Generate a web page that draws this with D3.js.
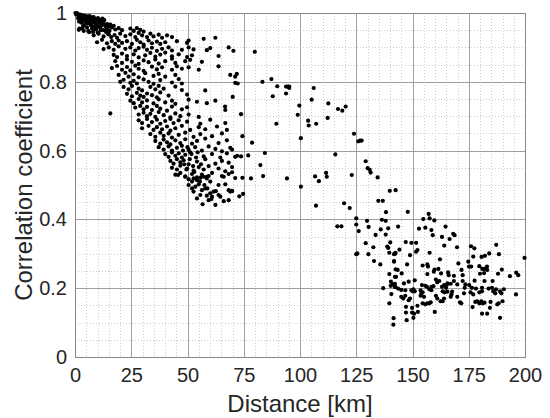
<!DOCTYPE html>
<html><head><meta charset="utf-8">
<script src="https://cdn.jsdelivr.net/npm/d3@7"></script>
<style>
body{margin:0;background:#fff}
svg{display:block}
text{font-family:"Liberation Sans",Arial,Helvetica,sans-serif;fill:#262626}
</style>
</head><body>
<svg id="chart" width="550" height="418"></svg>
<script>
const xTickValues=[0,25,50,75,100,125,150,175,200];
const yTickValues=[0,0.2,0.4,0.6,0.8,1];
const xLabel="Distance [km]";
const yLabel="Correlation coefficient";

// [distance km, correlation]
const nearPairs=[
[0.2,1.0],[0.5,0.996],[1.1,0.998],[1.6,0.993],[2.3,0.995],[2.8,0.99],[3.4,0.993],[3.9,0.988],[4.4,0.992],[4.9,0.986],[5.5,0.99],[6.1,0.985],[6.5,0.991],[6.8,0.982],[7.4,0.987],[7.9,0.98],[8.3,0.988],[9.0,0.983],[9.6,0.978],[10.2,0.985],[11.0,0.98],[11.7,0.976],[12.2,0.984],[13.0,0.979],
[1.8,0.975],[2.9,0.972],[4.3,0.978],[5.6,0.97],[6.6,0.975],[7.2,0.968],[8.6,0.973],[9.9,0.967],[10.8,0.972],[11.9,0.965],[12.7,0.97],[13.5,0.962],[14.3,0.968],[15.0,0.961],[15.7,0.966],[17.2,0.963],[3.6,0.962],[2.0,0.955],
[0.8,0.999],[1.4,0.985],[2.5,0.984],[3.1,0.98],[4.7,0.974],[5.1,0.98],[6.9,0.965],[7.7,0.96],[8.8,0.962],[9.4,0.958],[10.6,0.96],[11.4,0.95],[13.8,0.945],[14.7,0.94],[4.0,0.965],[3.2,0.955],[5.9,0.948],[8.0,0.945],
[1.7,0.951],[3.9,0.948],[5.3,0.958],[7.6,0.955],[9.3,0.952],[11.3,0.957],[12.7,0.95],[14.2,0.955],[15.3,0.948],[16.4,0.958],[17.9,0.952],[19.4,0.956],[20.9,0.95],[24.6,0.955],[26.1,0.948],[27.5,0.956],[29.0,0.951],[30.5,0.946],[6.3,0.944],[10.1,0.943]
];
const upperBand=[
[8.3,0.935],[10.5,0.94],[12.7,0.932],[15.0,0.938],[16.1,0.93],[17.6,0.936],[18.7,0.928],[20.1,0.94],[22.4,0.933],[24.6,0.938],[26.8,0.93],[28.3,0.942],[29.8,0.935],[32.0,0.93],[33.5,0.94],[34.9,0.932],[37.2,0.937],[38.7,0.928],[40.9,0.935],[43.1,0.93],
[9.8,0.915],[12.0,0.922],[14.2,0.912],[16.4,0.918],[17.9,0.91],[19.4,0.92],[20.9,0.913],[23.1,0.918],[25.3,0.91],[27.5,0.922],[29.0,0.915],[30.5,0.908],[32.7,0.92],[34.2,0.912],[36.4,0.917],[37.9,0.91],[40.1,0.915],[45.3,0.918],[49.8,0.913],[50.5,0.92],[57.2,0.925],[62.4,0.928],
[12.7,0.895],[15.0,0.9],[17.2,0.893],[19.4,0.903],[22.4,0.896],[24.6,0.9],[26.8,0.891],[28.3,0.898],[30.5,0.902],[32.0,0.893],[34.2,0.899],[36.4,0.89],[38.7,0.896],[41.6,0.9],[43.1,0.891],[47.5,0.893],[50.5,0.9],[52.7,0.894],[58.6,0.892],[60.1,0.898],[68.3,0.9],
[17.2,0.878],[18.7,0.872],[20.9,0.882],[23.1,0.875],[26.1,0.88],[28.3,0.871],[31.2,0.877],[33.5,0.884],[35.7,0.873],[37.9,0.879],[40.1,0.885],[43.1,0.874],[46.1,0.88],[49.8,0.872],[52.0,0.877],[63.8,0.875],
[17.9,0.86],[20.9,0.855],[23.1,0.865],[25.3,0.858],[28.3,0.852],[30.5,0.862],[32.7,0.857],[35.7,0.865],[37.2,0.853],[40.1,0.86],[43.1,0.867],[44.6,0.855],[49.0,0.86],[51.2,0.864],[56.4,0.858],
[16.4,0.84],[18.7,0.846],[20.9,0.835],[23.1,0.843],[24.6,0.833],[26.8,0.847],[28.3,0.838],[30.5,0.832],[34.2,0.844],[36.4,0.836],[38.7,0.842],[43.1,0.835],[45.3,0.845],[47.5,0.838],[50.5,0.842],[55.0,0.835],[63.8,0.845]
];
const middleBand=[
[19.4,0.82],[22.4,0.826],[23.8,0.815],[26.1,0.822],[28.3,0.813],[31.2,0.825],[34.9,0.817],[37.2,0.823],[40.1,0.815],[44.6,0.82],[69.0,0.82],[71.2,0.815],
[20.1,0.8],[21.6,0.806],[24.6,0.797],[26.1,0.803],[27.5,0.795],[30.5,0.807],[32.7,0.8],[34.9,0.794],[37.9,0.805],[43.1,0.798],[46.1,0.808],[47.5,0.795],[71.2,0.797],
[21.6,0.785],[23.8,0.778],[25.3,0.788],[28.3,0.78],[29.8,0.775],[33.5,0.785],[35.7,0.778],[37.2,0.788],[39.4,0.78],[44.6,0.786],[47.5,0.776],[57.9,0.775],
[23.1,0.765],[25.3,0.758],[27.5,0.768],[29.0,0.76],[30.5,0.756],[32.0,0.766],[34.2,0.761],[36.4,0.755],[37.9,0.769],[41.6,0.76],[49.8,0.763],
[24.6,0.745],[26.1,0.738],[28.3,0.75],[29.8,0.74],[32.0,0.746],[34.9,0.737],[37.2,0.749],[40.1,0.74],[43.1,0.745],[44.6,0.736],[50.5,0.748],[54.2,0.742],[58.6,0.738],[62.4,0.745],
[26.8,0.725],[29.0,0.73],[30.5,0.72],[32.0,0.727],[34.2,0.718],[36.4,0.73],[37.9,0.722],[40.9,0.716],[43.1,0.728],[47.5,0.72],[49.8,0.726],[66.8,0.718],
[15.7,0.708],[28.3,0.705],[30.5,0.71],[32.0,0.7],[33.5,0.707],[35.7,0.698],[37.2,0.712],[39.4,0.703],[42.4,0.697],[44.6,0.708],[46.8,0.7],[50.5,0.705],[55.0,0.698],
[28.3,0.688],[29.8,0.68],[32.0,0.692],[34.2,0.683],[36.4,0.69],[37.9,0.678],[40.1,0.686],[42.4,0.692],[43.8,0.68],[46.1,0.688],[49.8,0.684],[55.7,0.678],[60.1,0.69],[66.8,0.68]
];
const lowerBand=[
[29.8,0.665],[32.7,0.672],[34.9,0.66],[36.4,0.668],[38.7,0.662],[40.9,0.67],[42.4,0.658],[44.6,0.665],[47.5,0.672],[51.2,0.66],[55.0,0.668],[57.9,0.662],[63.1,0.67],[67.5,0.66],
[33.5,0.648],[35.7,0.64],[37.9,0.652],[39.4,0.643],[41.6,0.65],[43.1,0.638],[46.1,0.646],[49.0,0.652],[52.7,0.64],[55.7,0.648],[60.9,0.642],[65.3,0.65],
[35.7,0.628],[37.9,0.62],[39.4,0.632],[40.9,0.624],[42.4,0.618],[44.6,0.63],[46.8,0.622],[49.0,0.633],[52.0,0.62],[54.2,0.628],[57.9,0.635],[63.8,0.622],[67.5,0.63],
[37.2,0.61],[39.4,0.603],[41.6,0.612],[43.1,0.6],[45.3,0.608],[47.5,0.614],[50.5,0.602],[53.4,0.61],[56.4,0.6],[59.4,0.612],[62.4,0.605],[65.3,0.598],[69.0,0.608],
[40.1,0.59],[41.6,0.582],[43.1,0.595],[44.6,0.585],[46.1,0.592],[47.5,0.58],[49.0,0.588],[51.2,0.595],[57.2,0.583],[60.9,0.59],[64.6,0.58],[67.5,0.592],
[42.4,0.57],[43.8,0.562],[45.3,0.575],[46.8,0.566],[48.3,0.572],[50.5,0.56],[54.2,0.568],[57.9,0.575],[62.4,0.562],[65.3,0.57],[68.3,0.565],
[43.1,0.55],[45.3,0.545],[46.8,0.556],[49.8,0.548],[52.7,0.542],[55.0,0.552],[57.2,0.545],[59.4,0.555],[63.8,0.548],[66.8,0.54],[69.8,0.552],
[44.6,0.53],[46.8,0.535],[49.0,0.525],[52.0,0.532],[54.2,0.522],[56.4,0.53],[58.6,0.524],[60.9,0.535],[65.3,0.526],[68.3,0.532],[71.2,0.52],
[48.5,0.56],[49.5,0.545],[51.0,0.575],[52.5,0.555],[53.8,0.58],[51.8,0.59],[50.0,0.61],[48.0,0.6],[54.5,0.595],[56.0,0.56],[53.0,0.538],[55.5,0.51],[57.5,0.5],[58.8,0.49],
[45.8,0.529],[49.0,0.524],[50.5,0.517],[52.0,0.51],[52.7,0.519],[54.2,0.514],[55.7,0.521],[57.2,0.524],[58.6,0.519],[59.4,0.526],[60.1,0.51],[50.5,0.5],[52.0,0.49],[53.5,0.495],[55.0,0.502],[56.4,0.485],[55.7,0.471],[54.2,0.461],[52.7,0.481],[57.9,0.49],[60.1,0.476],[60.9,0.466],[61.6,0.481],[62.6,0.482],[63.8,0.471],[64.6,0.466],[59.4,0.456],[60.6,0.459],[62.4,0.442],[56.7,0.444],[66.1,0.453],[68.3,0.456],[69.0,0.481],[68.3,0.485],[69.8,0.482],[66.1,0.524],[66.8,0.502],[58.6,0.469],[63.8,0.5]
];
const sparsePairs=[
[70.4,0.89],[79.9,0.887],[71.9,0.823],[72.3,0.795],[70.1,0.756],[83.3,0.8],[87.3,0.808],[89.9,0.787],[87.9,0.758],[93.8,0.786],[94.7,0.786],[95.2,0.786],[95.2,0.782],[93.8,0.766],[106.1,0.782],[105.2,0.748],[99.7,0.731],[99.0,0.704],[112.6,0.737],[116.9,0.721],[118.8,0.716],[120.3,0.728],[112.3,0.695],[103.6,0.687],[103.9,0.673],[107.2,0.678],[89.5,0.678],[73.8,0.706],[74.4,0.642],[78.7,0.623],[100.4,0.636],[124.0,0.649],[125.9,0.627],[126.7,0.629],[127.4,0.629],[115.7,0.589],[69.8,0.603],[71.2,0.582],[72.1,0.585],[73.8,0.583],[77.0,0.586],[84.4,0.593],[82.4,0.558],[129.2,0.569],[130.1,0.549],[131.0,0.544],[131.4,0.536],[134.5,0.522],[123.0,0.529],[111.6,0.535],[111.9,0.524],[106.7,0.525],[94.2,0.519],[83.6,0.526],[78.2,0.519],[74.4,0.521],[69.8,0.537],[66.7,0.728],
[108.4,0.511],[69.8,0.483],[73.0,0.467],[74.7,0.474],[100.4,0.495],[107.1,0.44],[119.6,0.447],[122.1,0.433],[139.9,0.483],[142.5,0.485],[134.8,0.454],[136.8,0.454],[138.2,0.421],[125.0,0.403],[129.8,0.396],[136.4,0.399],[138.1,0.396],[139.2,0.374],[116.6,0.38],[118.4,0.38],[125.0,0.385],[130.5,0.378],[126.1,0.366],[135.9,0.371],[133.6,0.355],[138.1,0.356],[140.1,0.333],[129.2,0.331],[132.6,0.319],[138.8,0.321],[139.2,0.317],[139.7,0.303],[142.4,0.301],[125.0,0.299],[125.5,0.301],[130.4,0.299],[132.9,0.279],[135.7,0.269],[141.8,0.279],[142.5,0.255],[139.7,0.241],[142.2,0.233],[140.4,0.219],[140.3,0.207],[142.2,0.213],[142.2,0.203],[137.0,0.2],[140.6,0.183],[139.7,0.156],[141.6,0.113],[141.5,0.094]
];
const farCluster=[
[147.9,0.422],[157.2,0.416],[154.8,0.401],[157.6,0.403],[159.7,0.397],[143.6,0.379],[152.9,0.373],[155.7,0.376],[158.4,0.369],[164.7,0.379],[163.1,0.349],[159.0,0.354],[166.5,0.343],[168.1,0.358],[168.7,0.354],[164.1,0.324],[169.8,0.319],[147.0,0.334],[149.5,0.332],[151.6,0.332],[144.2,0.312],[142.4,0.303],[141.8,0.299],[148.9,0.296],[151.6,0.306],[152.2,0.311],[157.6,0.303],[176.0,0.322],[177.5,0.316],[177.0,0.292],[180.7,0.291],[182.2,0.294],[184.1,0.301],[187.2,0.326],[188.4,0.299],[199.8,0.288],
[147.6,0.269],[141.8,0.277],[154.5,0.266],[156.6,0.269],[156.9,0.263],[162.2,0.284],[170.4,0.272],[174.8,0.277],[175.1,0.263],[176.1,0.263],[179.7,0.264],[181.9,0.256],[181.0,0.256],[183.1,0.263],[183.2,0.253],[189.7,0.254],[143.4,0.253],[145.2,0.243],[142.7,0.233],[159.8,0.254],[159.5,0.248],[161.5,0.256],[156.6,0.241],[162.7,0.243],[165.8,0.246],[166.1,0.238],[168.4,0.236],[171.8,0.253],[172.3,0.238],[180.0,0.242],[181.8,0.244],[188.0,0.242],[193.3,0.235],[196.1,0.245],[197.0,0.238],
[151.0,0.223],[160.4,0.225],[161.0,0.217],[161.9,0.221],[168.4,0.221],[172.3,0.221],[177.6,0.222],[182.0,0.221],[185.6,0.221],[154.2,0.209],[155.7,0.207],[156.4,0.204],[141.2,0.211],[142.4,0.204],[158.4,0.204],[159.3,0.206],[163.1,0.204],[164.0,0.209],[164.9,0.201],[165.2,0.209],[165.5,0.214],[167.0,0.213],[169.9,0.211],[173.5,0.211],[173.2,0.201],[175.2,0.209],[176.4,0.201],[178.2,0.199],[180.9,0.201],[183.8,0.199],[185.3,0.201],[187.1,0.197],[190.6,0.197],[146.2,0.214],[148.3,0.219],[143.6,0.199],
[145.0,0.195],[146.8,0.194],[149.5,0.194],[150.4,0.197],[151.0,0.191],[150.1,0.191],[153.6,0.194],[154.5,0.188],[153.9,0.184],[157.5,0.197],[158.4,0.194],[163.4,0.191],[164.3,0.188],[165.5,0.19],[167.6,0.19],[167.3,0.182],[172.9,0.185],[175.8,0.188],[177.0,0.182],[179.7,0.188],[180.9,0.191],[185.9,0.191],[186.8,0.185],[188.9,0.191],[189.5,0.185],[196.0,0.182],
[145.0,0.175],[145.9,0.17],[146.8,0.178],[148.9,0.17],[148.3,0.165],[153.6,0.178],[155.1,0.175],[160.4,0.178],[161.0,0.17],[162.5,0.162],[163.4,0.162],[164.0,0.17],[167.0,0.175],[169.9,0.175],[171.1,0.159],[171.7,0.156],[177.9,0.16],[178.8,0.162],[179.7,0.156],[181.2,0.156],[180.6,0.162],[182.0,0.158],[184.7,0.16],[187.7,0.153],[188.3,0.156],[190.0,0.162],
[147.1,0.146],[149.8,0.143],[152.2,0.149],[154.5,0.156],[155.7,0.153],[156.6,0.156],[157.5,0.156],[158.1,0.159],[147.1,0.129],[149.8,0.129],[150.7,0.126],[152.4,0.131],[150.4,0.114],[147.4,0.107],[159.9,0.131],[176.7,0.145],[180.9,0.126],[183.2,0.126],[184.4,0.143],[188.9,0.114]
];

const allPairs=[].concat(nearPairs,upperBand,middleBand,lowerBand,sparsePairs,farCluster);

const svg=d3.select("#chart");
const L=75,R=525,T=13,B=357;
const x=d3.scaleLinear().domain([0,200]).range([L,R]);
const y=d3.scaleLinear().domain([0,1]).range([B,T]);

const minorX=d3.range(0,201,5).filter(v=>v%25!==0);
const minorY=d3.range(0,21).map(i=>i*0.05).filter((v,i)=>i%4!==0);

const g=svg.append("g");
g.selectAll(".mx").data(minorX).enter().append("line")
 .attr("x1",d=>Math.round(x(d))+0.5).attr("x2",d=>Math.round(x(d))+0.5).attr("y1",T).attr("y2",B)
 .attr("stroke","#cdcdcd").attr("stroke-width",1).attr("stroke-dasharray","1,2");
g.selectAll(".my").data(minorY).enter().append("line")
 .attr("y1",d=>Math.round(y(d))+0.5).attr("y2",d=>Math.round(y(d))+0.5).attr("x1",L).attr("x2",R)
 .attr("stroke","#cdcdcd").attr("stroke-width",1).attr("stroke-dasharray","1,2");
g.selectAll(".gx").data(xTickValues).enter().append("line")
 .attr("x1",d=>Math.round(x(d))+0.5).attr("x2",d=>Math.round(x(d))+0.5).attr("y1",T).attr("y2",B)
 .attr("stroke","#a0a0a0").attr("stroke-width",1);
g.selectAll(".gy").data(yTickValues).enter().append("line")
 .attr("y1",d=>Math.round(y(d))+0.5).attr("y2",d=>Math.round(y(d))+0.5).attr("x1",L).attr("x2",R)
 .attr("stroke","#a0a0a0").attr("stroke-width",1);

svg.append("rect").attr("x",L+0.5).attr("y",T+0.5).attr("width",R-L).attr("height",B-T)
 .attr("fill","none").attr("stroke","#888").attr("stroke-width",1);

svg.append("g").selectAll("circle").data(allPairs).enter().append("circle")
 .attr("cx",d=>x(d[0])).attr("cy",d=>y(d[1])).attr("r",2.1).attr("fill","#000");

const xa=svg.append("g").attr("transform",`translate(0,${B})`)
 .call(d3.axisBottom(x).tickValues(xTickValues).tickSize(0).tickPadding(11).tickFormat(d3.format("d")));
xa.select(".domain").remove();
xa.selectAll("text").attr("font-size",20).attr("fill","#262626").attr("font-family","Liberation Sans, Arial, sans-serif");

const ya=svg.append("g").attr("transform",`translate(${L},0)`)
 .call(d3.axisLeft(y).tickValues(yTickValues).tickSize(0).tickPadding(8).tickFormat(d=>d===0?"0":d===1?"1":d3.format(".1f")(d)));
ya.select(".domain").remove();
ya.selectAll("text").attr("font-size",20).attr("fill","#262626").attr("font-family","Liberation Sans, Arial, sans-serif");

svg.append("text").attr("x",(L+R)/2).attr("y",412).attr("text-anchor","middle")
 .attr("font-size",24).text(xLabel);
svg.append("text").attr("transform",`translate(32,${(T+B)/2}) rotate(-90)`).attr("text-anchor","middle")
 .attr("font-size",24).text(yLabel);
</script>
</body></html>
